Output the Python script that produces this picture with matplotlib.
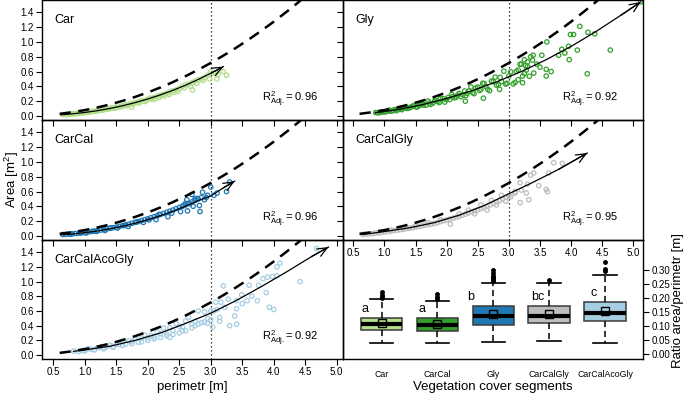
import matplotlib
matplotlib.use("Agg")
import matplotlib.pyplot as plt

plt.rcParams['font.family'] = ['Liberation Sans', 'DejaVu Sans']
plt.rcParams['mathtext.fontset'] = 'custom'
plt.rcParams['mathtext.rm'] = 'Liberation Sans'
plt.rcParams['mathtext.it'] = 'Liberation Sans:italic'

# ---------------- data ----------------
groups = ["Car", "CarCal", "Gly", "CarCalGly", "CarCalAcoGly"]
scatter_colors = {"Car": "#b2df8a", "CarCal": "#1f78b4", "Gly": "#33a02c",
                  "CarCalGly": "#bdbdbd", "CarCalAcoGly": "#a6cee3"}
box_colors = ["#b2df8a", "#33a02c", "#1f78b4", "#bdbdbd", "#a6cee3"]
r2_values = {"Car": "0.96", "Gly": "0.92", "CarCal": "0.96",
             "CarCalGly": "0.95", "CarCalAcoGly": "0.92"}

# reference curve (area of a circle of given perimeter)
circle_perimeter = [0.6, 0.8, 1.0, 1.2, 1.4, 1.6, 1.8, 2.0, 2.2, 2.4, 2.6, 2.8, 3.0,
                    3.2, 3.4, 3.6, 3.8, 4.0, 4.2, 4.4, 4.6]
circle_area = [0.029, 0.051, 0.080, 0.115, 0.156, 0.204, 0.258, 0.318, 0.385, 0.458,
               0.538, 0.624, 0.716, 0.815, 0.920, 1.031, 1.149, 1.273, 1.404, 1.541, 1.684]

# fitted curves
car_fit_x = [0.62, 0.8, 1.0, 1.2, 1.4, 1.6, 1.8, 2.0, 2.2, 2.4, 2.6, 2.8, 3.0, 3.2]
car_fit_y = [0.016, 0.029, 0.048, 0.072, 0.102, 0.138, 0.181, 0.23, 0.285, 0.347, 0.416, 0.493, 0.576, 0.667]
gly_fit_x = [0.85, 1.2, 1.6, 2.0, 2.4, 2.8, 3.2, 3.6, 4.0, 4.4, 4.8, 5.12]
gly_fit_y = [0.043, 0.085, 0.151, 0.236, 0.34, 0.46, 0.6, 0.76, 0.94, 1.14, 1.36, 1.54]
carcal_fit_x = [0.62, 0.8, 1.0, 1.2, 1.4, 1.6, 1.8, 2.0, 2.2, 2.4, 2.6, 2.8, 3.0, 3.2, 3.38]
carcal_fit_y = [0.015, 0.027, 0.045, 0.068, 0.097, 0.132, 0.173, 0.22, 0.274, 0.335, 0.403, 0.477, 0.54, 0.65, 0.74]
carcalgly_fit_x = [0.65, 1.0, 1.4, 1.8, 2.2, 2.6, 3.0, 3.4, 3.8, 4.26]
carcalgly_fit_y = [0.02, 0.06, 0.11, 0.18, 0.28, 0.41, 0.57, 0.73, 0.9, 1.12]
aco_fit_x = [0.82, 1.0, 1.4, 1.8, 2.2, 2.6, 3.0, 3.4, 3.8, 4.2, 4.6, 4.87]
aco_fit_y = [0.05, 0.07, 0.12, 0.2, 0.3, 0.43, 0.57, 0.74, 0.93, 1.13, 1.34, 1.47]

# observations (perimeter [m], area [m2])
car_x = [0.65, 0.7, 0.72, 0.78, 0.8, 0.85, 0.88, 0.92, 0.95, 1.0, 1.02, 1.06, 1.1, 1.12, 1.15,
         1.2, 1.22, 1.25, 1.3, 1.33, 1.36, 1.4, 1.43, 1.47, 1.5, 1.53, 1.57, 1.6, 1.64, 1.68,
         1.72, 1.74, 1.77, 1.8, 1.84, 1.88, 1.92, 1.95, 2.0, 2.03, 2.07, 2.1, 2.15, 2.2, 2.24,
         2.28, 2.32, 2.36, 2.4, 2.45, 2.5, 2.55, 2.6, 2.65, 2.7, 2.71, 2.75, 2.8, 2.85, 2.9,
         2.95, 3.0, 3.05, 3.1, 3.2, 3.25,
         1.08, 1.18, 1.28, 1.38, 1.48, 1.58, 1.66, 1.76, 1.86, 1.96, 2.06, 2.12, 2.18, 2.26, 2.34,
         2.42, 2.48, 2.58, 2.68, 2.78, 2.88, 2.98, 3.08, 3.12, 0.98, 0.9, 0.82, 0.75]
car_y = [0.02, 0.018, 0.024, 0.025, 0.03, 0.031, 0.037, 0.038, 0.044, 0.046, 0.052, 0.053, 0.058, 0.064, 0.063,
         0.07, 0.078, 0.076, 0.085, 0.09, 0.093, 0.1, 0.11, 0.108, 0.12, 0.118, 0.13, 0.135, 0.15, 0.148,
         0.16, 0.12, 0.17, 0.18, 0.185, 0.2, 0.205, 0.21, 0.225, 0.24, 0.24, 0.25, 0.265, 0.28, 0.29,
         0.3, 0.31, 0.33, 0.34, 0.35, 0.37, 0.4, 0.42, 0.43, 0.45, 0.35, 0.47, 0.49, 0.5, 0.52,
         0.55, 0.6, 0.58, 0.5, 0.6, 0.55,
         0.053, 0.066, 0.08, 0.095, 0.105, 0.125, 0.14, 0.16, 0.175, 0.195, 0.225, 0.23, 0.25, 0.27, 0.29,
         0.32, 0.33, 0.38, 0.4, 0.44, 0.48, 0.5, 0.58, 0.56, 0.042, 0.036, 0.028, 0.022]

gly_x = [0.86, 0.92, 0.97, 1.03, 1.08, 1.14, 1.19, 1.26, 1.3, 1.37, 1.42, 1.48, 1.53, 1.59, 1.63,
         1.7, 1.74, 1.81, 1.86, 1.9, 1.97, 2.02, 2.08, 2.12, 2.18, 2.23, 2.29, 2.33, 2.39, 2.44,
         2.5, 2.53, 2.58, 2.63, 2.69, 2.72, 2.78, 2.83, 2.88, 2.92, 2.97, 3.03, 3.07, 3.12, 3.18,
         3.22, 3.27, 3.33, 3.38,
         0.89, 0.95, 1.0, 1.06, 1.11, 1.17, 1.22, 1.28, 1.34, 1.4, 1.45, 1.51, 1.56, 1.61, 1.67,
         1.72, 1.78, 1.83, 1.88, 1.94, 1.99, 2.05, 2.1, 2.15, 2.2, 2.26, 2.31, 2.36, 2.42, 2.47,
         2.55, 2.6, 2.66, 2.75, 2.8, 2.86, 2.95, 3.0, 3.1, 3.15, 3.25, 3.3,
         3.2, 3.25, 3.3, 3.35, 3.39, 3.45, 3.5, 3.53, 3.6, 3.6, 3.61, 3.68, 3.8, 3.85, 3.9, 3.96, 3.97,
         3.99, 4.04, 4.1, 4.14, 4.26, 4.27, 4.38, 4.63, 5.12, 3.15, 3.22, 3.28, 3.4, 2.59, 2.3, 2.85]
gly_y = [0.047, 0.044, 0.057, 0.059, 0.079, 0.075, 0.071, 0.098, 0.11, 0.102, 0.119, 0.144, 0.124, 0.155, 0.148,
         0.202, 0.156, 0.207, 0.198, 0.234, 0.188, 0.248, 0.291, 0.246, 0.283, 0.261, 0.337, 0.307, 0.391, 0.302,
         0.391, 0.344, 0.44, 0.4, 0.342, 0.472, 0.524, 0.426, 0.465, 0.604, 0.442, 0.596, 0.434, 0.603, 0.698,
         0.539, 0.681, 0.536, 0.755,
         0.044, 0.055, 0.054, 0.068, 0.065, 0.086, 0.085, 0.085, 0.109, 0.109, 0.13, 0.122, 0.141, 0.165, 0.146,
         0.176, 0.174, 0.206, 0.181, 0.235, 0.224, 0.223, 0.265, 0.251, 0.306, 0.286, 0.277, 0.338, 0.314, 0.378,
         0.361, 0.439, 0.359, 0.464, 0.416, 0.521, 0.431, 0.542, 0.454, 0.62, 0.573, 0.668,
         0.7, 0.76, 0.73, 0.8, 0.82, 0.7, 0.66, 0.82, 0.63, 0.54, 1.0, 0.6, 0.82, 0.9, 0.85, 0.94, 0.76,
         1.1, 1.1, 0.89, 1.21, 0.57, 1.13, 1.11, 0.89, 1.54, 0.49, 0.45, 0.62, 0.58, 0.24, 0.2, 0.36]

carcal_x = [0.65, 0.7, 0.75, 0.8, 0.85, 0.9, 0.95, 1.0, 1.05, 1.1, 1.15, 1.2, 1.25, 1.3, 1.35, 1.4,
            1.45, 1.5, 1.55, 1.6, 1.65, 1.7, 1.75, 1.8, 1.85, 1.9, 1.95, 2.0, 2.05, 2.1, 2.15, 2.2,
            2.25, 2.3, 2.35, 2.4, 2.45, 2.5, 2.55, 2.6, 2.65, 2.7, 2.75, 2.8, 2.85, 2.9, 2.95,
            0.78, 0.93, 1.02, 1.13, 1.19, 1.32, 1.41, 1.52, 1.63, 1.69, 1.82, 1.93, 2.02, 2.13, 2.18,
            2.32, 2.38, 2.52, 2.57, 2.63, 2.67, 2.72, 2.78, 2.82,
            2.62, 2.7, 2.83, 2.87, 2.93, 3.0, 3.05, 3.1, 3.25, 3.3, 2.6, 2.75]
carcal_y = [0.02, 0.022, 0.025, 0.03, 0.034, 0.038, 0.043, 0.049, 0.054, 0.06, 0.067, 0.073, 0.08, 0.088, 0.096, 0.104,
            0.112, 0.12, 0.13, 0.14, 0.15, 0.16, 0.172, 0.183, 0.195, 0.208, 0.22, 0.232, 0.247, 0.26, 0.274, 0.29,
            0.305, 0.32, 0.335, 0.35, 0.37, 0.385, 0.4, 0.42, 0.44, 0.46, 0.48, 0.5, 0.52, 0.49, 0.55,
            0.023, 0.04, 0.04, 0.064, 0.063, 0.074, 0.109, 0.108, 0.141, 0.128, 0.189, 0.183, 0.217, 0.222, 0.292,
            0.26, 0.308, 0.33, 0.412, 0.339, 0.437, 0.402, 0.507, 0.412,
            0.49, 0.56, 0.33, 0.59, 0.52, 0.66, 0.55, 0.58, 0.6, 0.73, 0.44, 0.5]

carcalgly_x = [0.65, 0.7, 0.75, 0.8, 0.85, 0.9, 0.95, 1.0, 1.05, 1.1, 1.15, 1.2, 1.25, 1.3, 1.35, 1.4,
               1.45, 1.5, 1.55, 1.6, 1.65, 1.7, 1.75, 1.8, 1.85, 1.9, 1.95, 2.0, 2.05, 2.1, 2.15, 2.2,
               2.25, 2.3, 2.35, 2.4, 2.45, 2.5, 2.55, 2.6, 2.65, 2.7, 2.75, 2.8, 2.85, 2.9, 2.95, 3.0,
               0.9, 1.1, 1.3, 1.5, 1.7, 1.9, 2.06, 2.2, 2.35, 2.45, 2.55, 2.65, 2.72, 2.8, 2.88, 2.95, 3.03, 3.1,
               3.18, 3.18, 3.32, 3.35, 3.4, 3.48, 3.6, 3.62, 3.64, 3.72, 3.86, 3.2, 3.28, 3.1, 3.3]
carcalgly_y = [0.022, 0.024, 0.028, 0.032, 0.038, 0.043, 0.048, 0.055, 0.06, 0.066, 0.073, 0.078, 0.085, 0.09, 0.098, 0.104,
               0.112, 0.12, 0.128, 0.136, 0.145, 0.153, 0.16, 0.17, 0.18, 0.193, 0.205, 0.215, 0.228, 0.24, 0.252, 0.265,
               0.28, 0.295, 0.31, 0.325, 0.34, 0.355, 0.37, 0.385, 0.4, 0.42, 0.44, 0.46, 0.48, 0.5, 0.52, 0.54,
               0.05, 0.08, 0.11, 0.14, 0.18, 0.22, 0.16, 0.3, 0.35, 0.3, 0.42, 0.35, 0.48, 0.42, 0.55, 0.47, 0.53, 0.58,
               0.45, 0.72, 0.49, 0.82, 0.85, 0.68, 0.63, 0.6, 0.85, 0.99, 0.98, 0.62, 0.58, 0.6, 0.7]

aco_x = [0.82, 0.9, 0.95, 1.0, 1.05, 1.1, 1.15, 1.2, 1.25, 1.3, 1.35, 1.4, 1.45, 1.5, 1.55, 1.6, 1.65,
         1.7, 1.75, 1.8, 1.85, 1.9, 1.95, 2.0, 2.05, 2.1, 2.15, 2.2, 2.25, 2.3, 2.35, 2.4, 2.45, 2.5,
         2.55, 2.6, 2.65, 2.7, 2.75, 2.8, 2.85, 2.9, 2.95, 3.0,
         1.0, 1.15, 1.3, 1.45, 1.6, 1.75, 1.9, 2.0, 2.1, 2.2, 2.3, 2.4, 2.5, 2.6, 2.7, 2.75, 2.8, 2.9,
         2.95, 3.0, 2.35, 2.55,
         3.03, 3.08, 3.14, 3.14, 3.16, 3.2, 3.28, 3.3, 3.38, 3.41, 3.41, 3.41, 3.49, 3.58, 3.61, 3.74,
         3.76, 3.83, 3.88, 3.93, 3.98, 4.0, 4.05, 4.1, 4.42, 4.68, 3.05, 3.1, 3.22, 3.5, 3.65, 3.9, 4.05]
aco_y = [0.054, 0.049, 0.063, 0.067, 0.086, 0.079, 0.074, 0.099, 0.11, 0.098, 0.113, 0.134, 0.117, 0.146, 0.141,
         0.189, 0.148, 0.193, 0.184, 0.22, 0.174, 0.232, 0.271, 0.233, 0.266, 0.245, 0.314, 0.288, 0.367, 0.286,
         0.371, 0.333, 0.428, 0.39, 0.331, 0.464, 0.514, 0.419, 0.459, 0.6, 0.44, 0.589, 0.431, 0.599,
         0.055, 0.07, 0.085, 0.105, 0.13, 0.155, 0.18, 0.2, 0.22, 0.24, 0.26, 0.28, 0.3, 0.33, 0.37, 0.4, 0.42, 0.45,
         0.5, 0.48, 0.24, 0.38,
         0.38, 0.72, 0.51, 0.46, 0.72, 0.94, 0.76, 0.4, 0.53, 0.74, 0.63, 0.42, 0.82, 0.74, 0.95, 0.74,
         0.95, 1.04, 0.85, 0.65, 1.07, 0.62, 1.2, 1.25, 1.0, 1.45, 0.6, 0.62, 0.65, 0.7, 0.8, 1.06, 1.08]

# ratio area/perimeter box statistics
box_q1 = [0.085, 0.082, 0.103, 0.11, 0.117]
box_med = [0.107, 0.105, 0.135, 0.137, 0.148]
box_q3 = [0.13, 0.127, 0.17, 0.17, 0.185]
box_lo = [0.04, 0.04, 0.042, 0.047, 0.04]
box_hi = [0.196, 0.19, 0.255, 0.255, 0.283]
box_mean = [0.11, 0.107, 0.142, 0.142, 0.155]
box_fliers = [[0.2, 0.205, 0.21, 0.22], [0.198, 0.205, 0.213],
              [0.26, 0.265, 0.27, 0.275, 0.28, 0.29, 0.3], [0.265], [0.298, 0.303, 0.33]]
box_letters = ["a", "a", "b", "bc", "c"]
letter_dx = [-0.3, -0.28, -0.41, -0.2, -0.2]

# ---------------- figure ----------------
W, H = 685, 396
fig = plt.figure(figsize=(W / 100, H / 100), dpi=100)


def px_axes(x0, y0, x1, y1):
    return fig.add_axes([x0 / W, 1 - y1 / H, (x1 - x0) / W, (y1 - y0) / H])


panels = {
    "Car": (px_axes(42, 0, 343, 120), car_x, car_y, car_fit_x, car_fit_y, "L", False),
    "CarCal": (px_axes(42, 120, 343, 240), carcal_x, carcal_y, carcal_fit_x, carcal_fit_y, "L", False),
    "CarCalAcoGly": (px_axes(42, 240, 343, 359), aco_x, aco_y, aco_fit_x, aco_fit_y, "L", True),
    "Gly": (px_axes(343, 0, 643, 120), gly_x, gly_y, gly_fit_x, gly_fit_y, "R", False),
    "CarCalGly": (px_axes(343, 120, 643, 240), carcalgly_x, carcalgly_y, carcalgly_fit_x, carcalgly_fit_y, "R", True),
}
ax_box = px_axes(343, 240, 643, 359)
ax_box.set_zorder(0)

xticks = [0.5, 1.0, 1.5, 2.0, 2.5, 3.0, 3.5, 4.0, 4.5, 5.0]
yticks = [0.0, 0.2, 0.4, 0.6, 0.8, 1.0, 1.2, 1.4]

for name, (ax, xs, ys, fx, fy, side, xlab) in panels.items():
    ax.set_zorder(2)
    ax.patch.set_alpha(0)
    c = scatter_colors[name]
    ax.scatter(xs, ys, s=10, facecolors='none', edgecolors=c, linewidths=0.9, zorder=2, clip_on=False)
    ax.plot(circle_perimeter, circle_area, color='black', lw=1.8, dashes=(4.5, 3), zorder=3)
    ax.plot(fx, fy, color='black', lw=0.9, zorder=4)
    ax.annotate("", xy=(fx[-1], fy[-1]), xytext=(fx[-2], fy[-2]),
                arrowprops=dict(arrowstyle='->,head_length=0.7,head_width=0.3', color='black', lw=0.9,
                                shrinkA=0, shrinkB=0), zorder=5, annotation_clip=False)
    ax.axvline(3.0, color='black', lw=0.9, ls=(0, (1, 2.2)), zorder=1)
    if side == "L":
        ax.set_xlim(0.32, 5.1)
    else:
        ax.set_xlim(0.334, 5.156)
    ax.set_ylim(-0.054, 1.566)
    ax.set_xticks(xticks)
    ax.set_yticks(yticks)
    ax.set_xticklabels([f"{t:.1f}" for t in xticks] if xlab else [])
    if side == "L":
        ax.set_yticklabels([f"{t:.1f}" for t in yticks])
    else:
        ax.set_yticklabels([])
    ax.tick_params(direction='out', length=4, width=0.8, labelsize=7, pad=2, color='black')
    for sp in ax.spines.values():
        sp.set_linewidth(1.0)
    ax.text(0.04, 0.83, name, transform=ax.transAxes, fontsize=9, va='center', ha='left')
    ax.text(0.73, 0.17, r'$\mathrm{R}^{2}_{\mathrm{Adj.}}$= ' + r2_values[name], transform=ax.transAxes,
            fontsize=8, va='center', ha='left')

# boxplot panel
stats = []
for i, g in enumerate(groups):
    stats.append(dict(label=g, q1=box_q1[i], med=box_med[i], q3=box_q3[i], whislo=box_lo[i],
                      whishi=box_hi[i], mean=box_mean[i], fliers=box_fliers[i]))
positions = list(range(1, len(groups) + 1))
bp = ax_box.bxp(stats, positions=positions, widths=0.74, capwidths=0.42, patch_artist=True, showmeans=True,
                meanprops=dict(marker='s', markerfacecolor='none', markeredgecolor='black', markersize=6,
                               markeredgewidth=1.0),
                medianprops=dict(color='black', lw=3.0),
                whiskerprops=dict(color='black', lw=1.1, dashes=(4, 2.5)),
                capprops=dict(color='black', lw=1.2),
                flierprops=dict(marker='o', markerfacecolor='black', markeredgecolor='black', markersize=2.5),
                boxprops=dict(edgecolor='#3a3a3a', lw=1.1))
for patch, c in zip(bp['boxes'], box_colors):
    patch.set_facecolor(c)
for i, letter in enumerate(box_letters):
    ax_box.text(positions[i] + letter_dx[i], box_q3[i] + 0.032, letter, fontsize=9, ha='center', va='center')
ax_box.set_xlim(0.31, 5.68)
ax_box.set_ylim(-0.018, 0.407)
ax_box.yaxis.tick_right()
ax_box.yaxis.set_label_position('right')
ax_box.set_yticks([0.0, 0.05, 0.1, 0.15, 0.2, 0.25, 0.3])
ax_box.set_yticklabels(["0.00", "0.05", "0.10", "0.15", "0.20", "0.25", "0.30"])
ax_box.set_xticks(positions)
ax_box.set_xticklabels(groups)
ax_box.tick_params(axis='y', direction='out', length=4, width=0.8, labelsize=7, pad=2)
ax_box.tick_params(axis='x', length=0, labelsize=6.3, pad=8)
for sp in ax_box.spines.values():
    sp.set_linewidth(1.0)

fig.text(12 / W, 1 - 180 / H, r'Area [m$^{2}$]', rotation=90, fontsize=9.5, ha='center', va='center')
fig.text(192 / W, 1 - 387 / H, 'perimetr [m]', fontsize=9.5, ha='center', va='center')
fig.text(493 / W, 1 - 387 / H, 'Vegetation cover segments', fontsize=9.5, ha='center', va='center')
fig.text(678 / W, 1 - 300 / H, 'Ratio area/perimetr [m]', rotation=90, fontsize=9.5, ha='center', va='center')

fig.savefig("out.png", dpi=100)
